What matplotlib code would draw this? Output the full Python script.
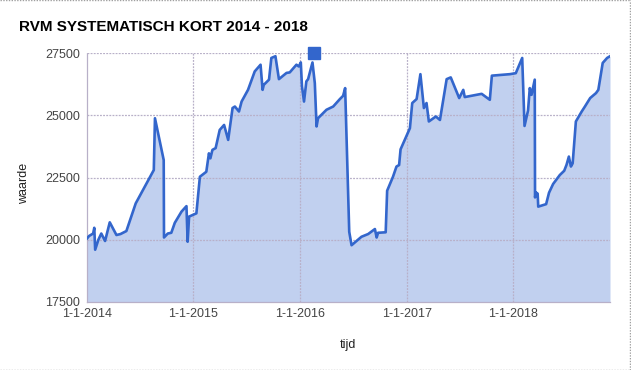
import matplotlib
matplotlib.use("Agg")
import matplotlib.pyplot as plt
from matplotlib.lines import Line2D
import pandas as pd

plt.rcParams['font.family'] = ['Liberation Sans', 'DejaVu Sans']

title = "RVM SYSTEMATISCH KORT 2014 - 2018"
x_label = "tijd"
y_label = "waarde"

dates = [
    "2014-01-01", "2014-01-08", "2014-01-22", "2014-01-26", "2014-01-29", "2014-02-09",
    "2014-02-19", "2014-03-04", "2014-03-20", "2014-04-12", "2014-04-26", "2014-05-16",
    "2014-06-17", "2014-08-18", "2014-08-22", "2014-09-21", "2014-09-22", "2014-10-05",
    "2014-10-17", "2014-10-29", "2014-11-21", "2014-12-08", "2014-12-12", "2014-12-17",
    "2015-01-11", "2015-01-23", "2015-02-14", "2015-02-23", "2015-02-28", "2015-03-07",
    "2015-03-18", "2015-04-01", "2015-04-16", "2015-04-30", "2015-05-15", "2015-05-23",
    "2015-06-06", "2015-06-15", "2015-07-07", "2015-07-30", "2015-08-19", "2015-08-26",
    "2015-08-30", "2015-09-05", "2015-09-17", "2015-09-25", "2015-10-09", "2015-10-21",
    "2015-11-16", "2015-11-27", "2015-12-20", "2015-12-28", "2016-01-04", "2016-01-08",
    "2016-01-15", "2016-01-23", "2016-01-29", "2016-02-13", "2016-02-21", "2016-02-27",
    "2016-03-03", "2016-04-01", "2016-04-24", "2016-05-17", "2016-05-28", "2016-06-04",
    "2016-06-18", "2016-06-26", "2016-07-30", "2016-08-22", "2016-09-14", "2016-09-20",
    "2016-09-25", "2016-10-21", "2016-10-26", "2016-11-15", "2016-11-27", "2016-12-06",
    "2016-12-11", "2017-01-12", "2017-01-20", "2017-02-04", "2017-02-17", "2017-03-01",
    "2017-03-10", "2017-03-18", "2017-04-11", "2017-04-25", "2017-05-18", "2017-06-01",
    "2017-06-30", "2017-07-14", "2017-07-19", "2017-09-15", "2017-10-13", "2017-10-20",
    "2017-12-21", "2018-01-10", "2018-02-01", "2018-02-09", "2018-02-21", "2018-02-27",
    "2018-03-05", "2018-03-16", "2018-03-17", "2018-03-20", "2018-03-26", "2018-03-28",
    "2018-04-24", "2018-05-04", "2018-05-18", "2018-06-10", "2018-06-25", "2018-07-03",
    "2018-07-11", "2018-07-18", "2018-07-24", "2018-08-04", "2018-08-24", "2018-09-04",
    "2018-09-22", "2018-10-12", "2018-10-20", "2018-11-04", "2018-11-19", "2018-11-29",
]
values = [
    20050, 20150, 20250, 20480, 19600, 20000,
    20250, 19950, 20700, 20190, 20230, 20350,
    21460, 22800, 24880, 23200, 20090, 20250,
    20280, 20680, 21130, 21350, 19920, 20930,
    21060, 22530, 22730, 23470, 23270, 23610,
    23680, 24410, 24610, 24010, 25290, 25350,
    25150, 25550, 26020, 26760, 27030, 26020,
    26220, 26290, 26430, 27300, 27370, 26450,
    26700, 26720, 27030, 26960, 27120, 26160,
    25550, 26360, 26450, 27120, 26290, 24550,
    24880, 25220, 25350, 25650, 25780, 26090,
    20320, 19780, 20120, 20230, 20430, 20090,
    20280, 20300, 21970, 22530, 22940, 23000,
    23630, 24480, 25490, 25650, 26650, 25290,
    25490, 24750, 24950, 24810, 26450, 26520,
    25690, 26020, 25730, 25860, 25620, 26590,
    26650, 26690, 27300, 24570, 25190, 26090,
    25820, 26430, 21700, 21900, 21850, 21330,
    21430, 21890, 22240, 22600, 22770, 23010,
    23340, 22940, 23070, 24750, 25150, 25350,
    25690, 25890, 26020, 27100, 27300, 27370,
]

y_ticks = [17500, 20000, 22500, 25000, 27500]
x_ticks = ["2014-01-01", "2015-01-01", "2016-01-01", "2017-01-01", "2018-01-01"]
x_tick_labels = ["1-1-2014", "1-1-2015", "1-1-2016", "1-1-2017", "1-1-2018"]

highlight_date = ["2016-02-19"]
highlight_value = [27500]

x = pd.to_datetime(dates)
xt = pd.to_datetime(x_ticks)

fig = plt.figure(figsize=(6.31, 3.70), dpi=100)
ax = fig.add_axes([87 / 631, 1 - 302 / 370, (610 - 87) / 631, (302 - 53) / 370])

line_color = "#3366cc"
ax.fill_between(x, y_ticks[0], values, color=line_color, alpha=0.30, linewidth=0, zorder=2)
ax.plot(x, values, color=line_color, linewidth=1.9, zorder=4)
ax.plot(pd.to_datetime(highlight_date), highlight_value, marker="s", markersize=9,
        color=line_color, markeredgecolor="#3366cc", linestyle="none", zorder=6, clip_on=False)

ax.set_xlim(x[0], x[-1])
ax.set_ylim(y_ticks[0], y_ticks[-1])
ax.set_yticks(y_ticks)
ax.set_yticklabels([str(v) for v in y_ticks])
ax.set_xticks(xt)
ax.set_xticklabels(x_tick_labels)

for v in y_ticks[1:]:
    ax.axhline(v, color="#b8b0c8", linewidth=0.9, linestyle=(0, (1.5, 1)), zorder=3)
for d in xt[1:]:
    ax.axvline(d, color="#b8b0c8", linewidth=0.9, linestyle=(0, (1.5, 1)), zorder=3)

for s in ["top", "right"]:
    ax.spines[s].set_visible(False)
ax.spines["left"].set_color("#b8b0c8")
ax.spines["left"].set_linewidth(0.9)
ax.spines["left"].set_linestyle((0, (1.5, 1)))
ax.spines["bottom"].set_color("#b8b0c8")
ax.spines["bottom"].set_linewidth(0.9)

ax.tick_params(axis="both", length=0, labelsize=9, labelcolor="#444444")
ax.tick_params(axis="y", pad=5)
ax.tick_params(axis="x", pad=4)

fig.text(19 / 631, 1 - 27 / 370, title, fontsize=11, fontweight="bold",
         color="#000000", ha="left", va="center")
fig.text(348 / 631, 1 - 345 / 370, x_label, fontsize=9, color="#222222", ha="center", va="center")
fig.text(24 / 631, 1 - 183 / 370, y_label, fontsize=9, color="#222222", ha="center", va="center",
         rotation=90)

border_kw = dict(color="#a0a0a0", linewidth=1, linestyle=(0, (1, 1)), transform=fig.transFigure)
fig.add_artist(Line2D([0, 1], [0.999, 0.999], **border_kw))
fig.add_artist(Line2D([0, 1], [0.001, 0.001], **border_kw))
fig.add_artist(Line2D([629.5 / 631, 629.5 / 631], [0, 1], **border_kw))

fig.savefig("out.png", dpi=100)
